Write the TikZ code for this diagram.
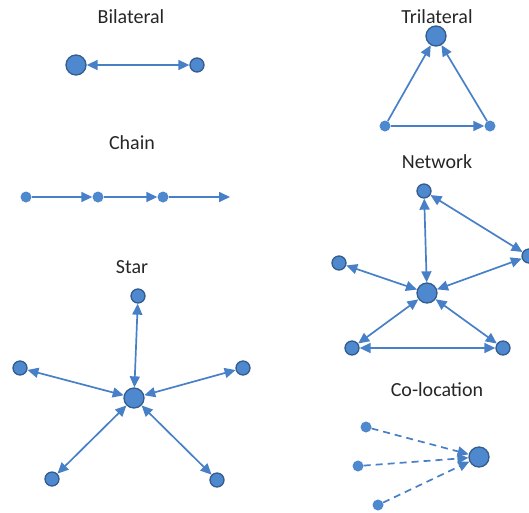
\documentclass[tikz,border=0pt]{standalone}
\usepackage{fontspec}
\setmainfont{Carlito}
\usetikzlibrary{arrows.meta}
\definecolor{nodeblue}{RGB}{78,136,206}
\definecolor{nodeedge}{RGB}{52,92,140}
\definecolor{linkblue}{RGB}{72,128,200}
\begin{document}
\begin{tikzpicture}[
		x=1pt, y=-1pt,
		big/.style={circle,draw=nodeedge,fill=nodeblue,line width=1.3pt,minimum size=20pt,inner sep=0pt},
		small/.style={circle,draw=nodeedge,fill=nodeblue,line width=1.3pt,minimum size=14pt,inner sep=0pt},
		dot/.style={circle,fill=nodeblue,minimum size=11pt,inner sep=0pt},
		title/.style={font=\fontsize{20}{23}\selectfont,text=black!85},
		link/.style={draw=linkblue,line width=1.7pt,-{Triangle[length=11pt,width=10pt]}},
		both/.style={link,{Triangle[length=11pt,width=10pt]}-{Triangle[length=11pt,width=10pt]}},
		colink/.style={link,dash pattern=on 7pt off 5pt}
		]
		\useasboundingbox (0,0) rectangle (529,512);
		% bilateral
		\node[title] (tbil) at (131,17) {Bilateral};
		\node[big] (b1) at (76,65) {};
		\node[small] (b2) at (197,65) {};
		\draw[both] (b1) -- (b2);
		% chain
		\node[title] (tcha) at (132,143) {Chain};
		\node[dot] (c1) at (26,197) {};
		\node[dot] (c2) at (98,197) {};
		\node[dot] (c3) at (163,197) {};
		\coordinate (c4) at (230,197);
		\draw[link] (c1) -- (c2);
		\draw[link] (c2) -- (c3);
		\draw[link] (c3) -- (c4);
		% star
		\node[title] (tsta) at (132,267) {Star};
		\node[big] (s0) at (134,398) {};
		\node[small] (s1) at (138,296) {};
		\node[small] (s2) at (20,368) {};
		\node[small] (s3) at (243,368) {};
		\node[small] (s4) at (52,479) {};
		\node[small] (s5) at (217,480) {};
		\foreach \n in {1,...,5}
			\draw[both] (s0) -- (s\n);
		% trilateral
		\node[title] (ttri) at (437,17) {Trilateral};
		\node[big] (t1) at (436,36) {};
		\node[dot] (t2) at (385,126) {};
		\node[dot] (t3) at (490,126) {};
		\draw[link] (t2) -- (t1);
		\draw[link] (t3) -- (t1);
		\draw[link] (t2) -- (t3);
		% network
		\node[title] (tnet) at (437,162) {Network};
		\node[big] (n0) at (427,293) {};
		\node[small] (n1) at (424,191) {};
		\node[small] (n2) at (529,256) {};
		\node[small] (n3) at (339,263) {};
		\node[small] (n4) at (352,348) {};
		\node[small] (n5) at (503,348) {};
		\foreach \n in {1,...,5}
			\draw[both] (n0) -- (n\n);
		\draw[both] (n1) -- (n2);
		\draw[both] (n4) -- (n5);
		% co-location
		\node[title] (tcol) at (437,390) {Co-location};
		\node[big] (k0) at (479,457) {};
		\node[dot] (k1) at (366,427) {};
		\node[dot] (k2) at (358,466) {};
		\node[dot] (k3) at (378,505) {};
		\foreach \n in {1,2,3}
			\draw[colink] (k\n) -- (k0);
\end{tikzpicture}
\end{document}
